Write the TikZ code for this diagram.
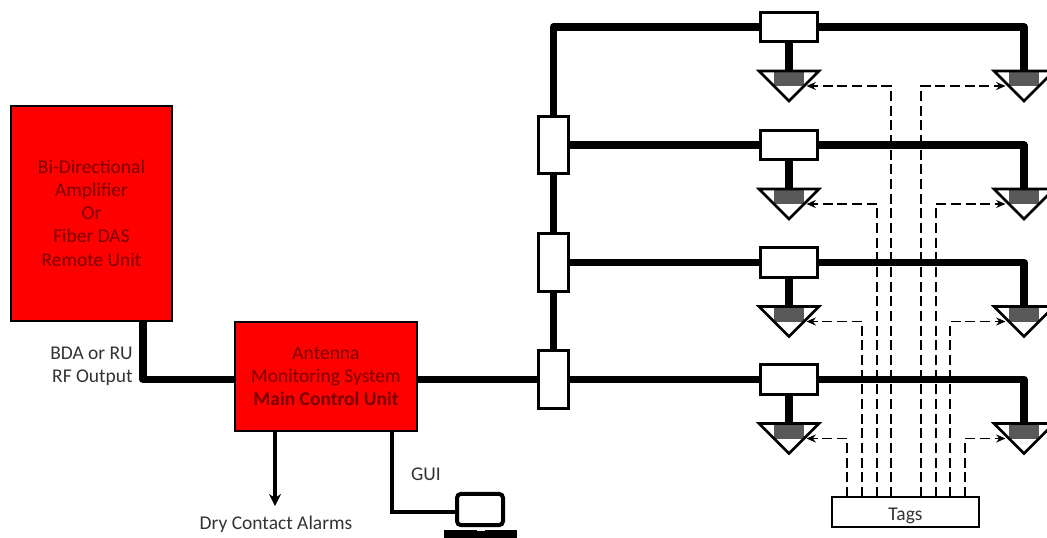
\documentclass[tikz,border=0pt]{standalone}
\usepackage{fontspec}
\setmainfont{Carlito}
\usetikzlibrary{arrows.meta}
\definecolor{redtext}{HTML}{7A0000}
\definecolor{labeltext}{HTML}{333333}
\definecolor{padgray}{HTML}{595959}
\tikzset{
  x=0.75pt,y=-0.75pt,
  redbox/.style={draw=black,line width=1.5pt,fill=red,inner sep=0pt,outer sep=0pt,text=redtext,align=center,font=\fontsize{14.6pt}{17.4pt}\selectfont},
  splitter/.style={draw=black,line width=2.25pt,fill=white,inner sep=0pt,outer sep=0pt,minimum width=22pt,minimum height=43pt},
  tapbox/.style={draw=black,line width=2.25pt,fill=white,inner sep=0pt,outer sep=0pt,minimum width=43pt,minimum height=22pt},
  pad/.style={fill=padgray,inner sep=0pt,outer sep=0pt,minimum width=22.5pt,minimum height=11.25pt},
  cable/.style={line width=5.5pt,line join=round},
  thinline/.style={line width=2.4pt,line join=miter},
  tagline/.style={line width=1.3pt,dash pattern=on 7.5pt off 3.5pt},
  tagarrow/.style={tagline,-{Stealth[length=7pt,width=6pt]}},
  lab/.style={text=labeltext,inner sep=0pt,font=\fontsize{14.6pt}{17.4pt}\selectfont,align=right},
}
\begin{document}
\begin{tikzpicture}
\clip (0,0) rectangle (1047,537);
\useasboundingbox (0,0) rectangle (1047,537);
\fill[white] (0,0) rectangle (1047,537);

% red units
\node[redbox,minimum width=120.75pt,minimum height=161.25pt] (bda) at (91.5,213)
  {Bi-Directional\\Amplifier\\Or\\Fiber DAS\\Remote Unit};
\node[redbox,minimum width=136.5pt,minimum height=82pt] (amu) at (326,376.5)
  {Antenna\\Monitoring System\\\textbf{Main Control Unit}};

% splitters
\node[splitter] (s1) at (553.5,145) {};
\node[splitter] (s2) at (553.5,262.5) {};
\node[splitter] (s3) at (553.5,379.5) {};

% rows
\foreach \i/\y in {1/27,2/145,3/262.5,4/379.5}{
  \node[tapbox] (t\i) at (789,\y) {};
  \node[pad] (al\i) at (789,\y+51.5) {};
  \node[pad] (ar\i) at (1024,\y+51.5) {};
  \coordinate (alt\i) at (806.5,\y+59);
  \coordinate (art\i) at (1005.5,\y+59);
}
\foreach \a in {al,ar}{
  \foreach \i in {1,2,3,4}{
    \draw[line width=2pt,line join=miter]
      ([xshift=-22.5pt]\a\i.north) -- ([xshift=22.5pt]\a\i.north)
      -- ([yshift=-22.5pt]\a\i.north) -- cycle;
  }
}

% cables
\coordinate (hinge) at (143,379.5);
\draw[cable] (bda.south -| hinge) -- (hinge) -- (hinge -| amu.west);
\draw[cable] (amu.east |- s3.west) -- (s3.west);
\draw[cable] (s3.north) -- (s2.south);
\draw[cable] (s2.north) -- (s1.south);
\draw[cable] (s1.north) |- (t1.west);
\draw[cable] (s1.east) -- (t2.west);
\draw[cable] (s2.east) -- (t3.west);
\draw[cable] (s3.east) -- (t4.west);
\foreach \i in {1,2,3,4}{
  \draw[cable] (t\i.south) -- (al\i.north);
  \draw[cable] (t\i.east) -| (ar\i.north);
}

% tags and dashed links
\node[draw=black,line width=1.2pt,fill=white,inner sep=0pt,outer sep=0pt,minimum width=110pt,minimum height=22.5pt,text height=12.5pt,text depth=0pt,font=\fontsize{14.6pt}{17pt}\selectfont,text=labeltext] (tags) at (905.5,512) {Tags};
\foreach \x/\i in {891/1,877/2,862/3,847/4}{
  \coordinate (b\i) at (\x,0);
  \draw[tagarrow] (tags.north -| b\i) -- (b\i |- alt\i) -- (alt\i);
}
\foreach \x/\i in {921/1,936/2,950/3,965/4}{
  \coordinate (c\i) at (\x,0);
  \draw[tagarrow] (tags.north -| c\i) -- (c\i |- art\i) -- (art\i);
}

% labels
\node[lab,anchor=east] (rf) at (133,366.5) {BDA or RU\\RF Output};
\node[lab] (dry) at (276,524) {Dry Contact Alarms};
\node[lab] (gui) at (426,474) {GUI};

% laptop
\node[draw=black,line width=3pt,rounded corners=3pt,fill=white,inner sep=0pt,outer sep=0pt,minimum width=34.5pt,minimum height=23.5pt] (screen) at (480,509.5) {};
\node[fill=black,inner sep=0pt,outer sep=0pt,minimum width=55pt,minimum height=6pt] (base) at (480.5,534) {};
\node[fill=white,inner sep=0pt,outer sep=0pt,minimum width=6pt,minimum height=1pt,anchor=north] (notch) at (base.north) {};

% thin links
\coordinate (dryend) at (275,506);
\draw[thinline,-{Stealth[length=9pt,width=9pt]}] (amu.south -| dryend) -- (dryend);
\coordinate (guibend) at (392,512);
\draw[thinline] (amu.south -| guibend) -- (guibend) -- (guibend -| screen.west);
\end{tikzpicture}
\end{document}
